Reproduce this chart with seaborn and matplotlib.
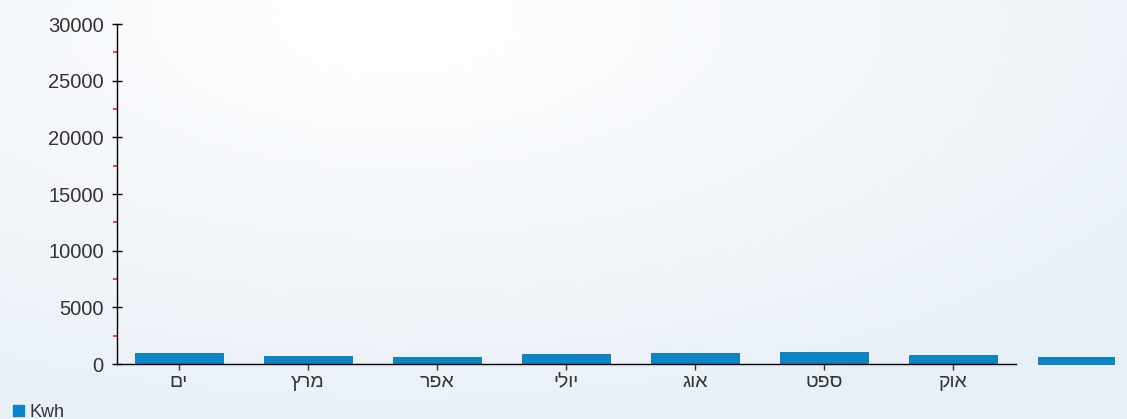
import numpy as np
import pandas as pd
import matplotlib.pyplot as plt
import seaborn as sns
from matplotlib.ticker import MultipleLocator
from matplotlib.transforms import Bbox, TransformedBbox

# months (logical Hebrew order) and monthly consumption
months = ['ים', 'מרץ', 'אפר', 'יולי', 'אוג', 'ספט', 'אוק', '']
kwh = [940, 710, 590, 880, 940, 1030, 790, 620]

sns.set_theme(style="white")
plt.rcParams['font.family'] = ['Liberation Sans', 'DejaVu Sans']

# matplotlib has no bidi support, so flip the Hebrew strings for display
labels = [m[::-1] for m in months]
df = pd.DataFrame({'month': labels, 'Kwh': kwh, 'series': 'Kwh'})

fig = plt.figure(figsize=(11.27, 4.19), dpi=100)

# soft page background
bg = fig.add_axes([0, 0, 1, 1], zorder=-10)
yy, xx = np.mgrid[0:1:200j, 0:1:400j]
d = np.sqrt(((xx - 0.35) * 1.2) ** 2 + (yy - 0.05) ** 2)
d = np.clip(d / 1.0, 0, 1)
c0 = np.array([1.0, 1.0, 1.0])
c1 = np.array([0.91, 0.94, 0.965])
img = c0 + (c1 - c0) * d[..., None]
bg.imshow(img, aspect='auto', extent=[0, 1, 0, 1], origin='upper')
bg.axis('off')

ax = fig.add_axes([117 / 1127, 55 / 419, 899 / 1127, 340 / 419])
ax.patch.set_alpha(0)

sns.barplot(data=df, x='month', y='Kwh', hue='series', palette=['#0a86c6'],
            width=0.68, ax=ax, legend=False, saturation=1)
# the last bar spills past the plot area and is cut by the container
clip = TransformedBbox(Bbox([[0, 0], [1115 / 1127, 1]]), fig.transFigure)
for p in ax.patches:
    p.set_clip_box(clip)
    p.set_edgecolor('#0873ab')
    p.set_linewidth(0.6)

ax.set_xlim(-0.48, 6.49)
ax.set_ylim(0, 30000)
ax.yaxis.set_major_locator(MultipleLocator(5000))
ax.yaxis.set_minor_locator(MultipleLocator(2500))
ax.set_xlabel('')
ax.set_ylabel('')

for s in ['top', 'right']:
    ax.spines[s].set_visible(False)
for s in ['left', 'bottom']:
    ax.spines[s].set_color('black')
    ax.spines[s].set_linewidth(1.0)

ax.tick_params(axis='y', which='major', direction='inout', length=7, width=1,
               colors='black', labelcolor='#333333', labelsize=14.5, pad=6,
               left=True)
ax.tick_params(axis='y', which='minor', direction='out', length=3, width=1.2,
               colors='#ff2020', left=True)
ax.tick_params(axis='x', which='major', direction='out', length=4, width=1,
               colors='#333333', labelsize=14, pad=3, bottom=True)

handle = plt.Rectangle((0, 0), 1, 1, color='#0a86c6')
fig.legend([handle], ['Kwh'], loc='lower left', bbox_to_anchor=(0.002, -0.03),
           frameon=False, handlelength=0.6, handleheight=0.6,
           handletextpad=0.3, fontsize=13, labelcolor='#333333',
           borderaxespad=0.2)

fig.savefig('out.png', dpi=100)
